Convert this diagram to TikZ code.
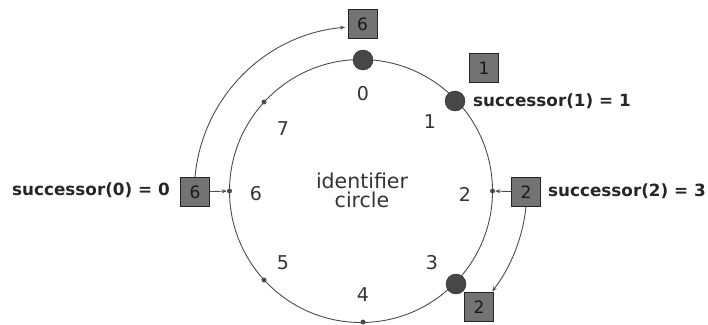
\documentclass[tikz,border=0pt]{standalone}
\usepackage{fontspec}
\setmainfont{DejaVu Sans}
\usetikzlibrary{arrows.meta}
\begin{document}
\begin{tikzpicture}[x=1pt,y=-1pt,
  ring/.style={draw=black!70, line width=0.9pt},
  bignode/.style={circle, fill=black!72, draw=black!85, minimum size=20pt, inner sep=0pt},
  smalldot/.style={circle, fill=black!70, minimum size=5pt, inner sep=0pt},
  idlabel/.style={font=\fontsize{19}{19}\selectfont, text=black!80},
  titlelabel/.style={font=\fontsize{20.5}{21}\selectfont, text=black!80, align=center},
  keybox/.style={draw=black!85, fill=black!55, minimum size=29pt, inner sep=0pt, font=\fontsize{17}{17}\selectfont, text=black!90},
  succ/.style={font=\bfseries\fontsize{16.8}{17}\selectfont, text=black!85, inner sep=0pt},
  conn/.style={draw=black!70, line width=0.9pt},
  tipped/.style={-{Stealth[length=5pt,width=4pt]}}
]
\useasboundingbox (0,0) rectangle (708,324);
\coordinate (c) at (361,191);
\draw[ring] (c) circle[radius=131.5];
% nodes on the circle
\node[bignode] (n0) at (363,60) {};
\node[bignode] (n1) at (455,101) {};
\node[bignode] (n3) at (456,284) {};
\node[smalldot] (n2) at (492.5,191) {};
\node[smalldot] (n4) at (363,322) {};
\node[smalldot] (n5) at (264,280) {};
\node[smalldot] (n6) at (229.5,191) {};
\node[smalldot] (n7) at (264,102) {};
% identifier labels
\node[idlabel] (l0) at (363,94) {0};
\node[idlabel] (l1) at (430,122) {1};
\node[idlabel] (l2) at (465,194) {2};
\node[idlabel] (l3) at (432,263) {3};
\node[idlabel] (l4) at (363,295) {4};
\node[idlabel] (l5) at (283,263) {5};
\node[idlabel] (l6) at (256,194) {6};
\node[idlabel] (l7) at (283,129) {7};
\node[titlelabel] (title) at (362,190) {identifier\\[-2pt]circle};
% key boxes
\node[keybox] (b6top) at (362.5,24) {6};
\node[keybox] (b1) at (484,68) {1};
\node[keybox] (b6left) at (195,192) {6};
\node[keybox] (b2right) at (526,192) {2};
\node[keybox] (b2bot) at (479,307) {2};
% successor texts
\node[succ, anchor=west] (s0) at (12,190) {successor(0) = 0};
\node[succ, anchor=west] (s1) at (473,101) {successor(1) = 1};
\node[succ, anchor=west] (s2) at (548,191) {successor(2) = 3};
% connectors
\draw[conn, tipped] (b6left) -- (n6);
\draw[conn, tipped] (b2right) -- (n2);
\draw[conn, tipped] (b6left.north) arc[start angle=-175, end angle=-95, radius=165];
\draw[conn, tipped] (b2right.south) arc[start angle=6, end angle=37.5, radius=168];
\end{tikzpicture}
\end{document}
